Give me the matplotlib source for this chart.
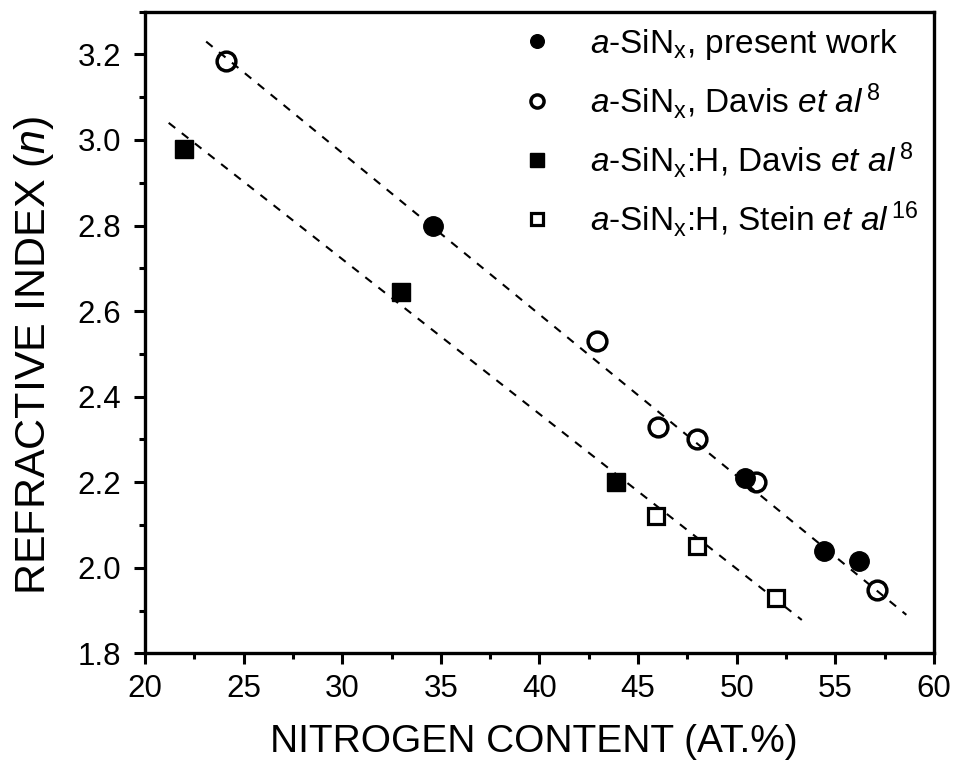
import matplotlib
matplotlib.use("Agg")
import matplotlib.pyplot as plt
from matplotlib.ticker import MultipleLocator, FormatStrFormatter

plt.rcParams["font.family"] = ["Liberation Sans", "DejaVu Sans"]
plt.rcParams["mathtext.fontset"] = "custom"
plt.rcParams["mathtext.rm"] = "Liberation Sans"
plt.rcParams["mathtext.it"] = "Liberation Sans:italic"

# --- data ---
present_x = [34.6, 50.4, 54.4, 56.2]
present_n = [2.80, 2.21, 2.04, 2.015]

davis_x = [24.1, 42.9, 46.0, 48.0, 51.0, 57.1]
davis_n = [3.185, 2.53, 2.33, 2.30, 2.20, 1.948]

davis_h_x = [22.0, 33.0, 43.9]
davis_h_n = [2.98, 2.645, 2.20]

stein_x = [45.9, 48.0, 52.0]
stein_n = [2.12, 2.05, 1.93]

# dashed guide lines (end points)
fit_a_x = [23.1, 58.6]
fit_a_n = [3.23, 1.89]
fit_h_x = [21.2, 53.3]
fit_h_n = [3.04, 1.878]

fig = plt.figure(figsize=(9.54, 7.75), dpi=100)
ax = fig.add_axes([0.152, 0.157, 0.827, 0.828])

dash = dict(color="black", lw=1.5, ls=(0, (4, 4)), zorder=1)
ax.plot(fit_a_x, fit_a_n, **dash)
ax.plot(fit_h_x, fit_h_n, **dash)

ax.plot(present_x, present_n, "o", ms=14, mfc="black", mec="black", ls="none",
        label=r"$\it{a}$-SiN$_\mathrm{x}$, present work", zorder=3)
ax.plot(davis_x, davis_n, "o", ms=13.5, mfc="none", mec="black", mew=2.5, ls="none",
        label=r"$\it{a}$-SiN$_\mathrm{x}$, Davis $\it{et\ al}$$^{\;8}$", zorder=3)
ax.plot(davis_h_x, davis_h_n, "s", ms=13.5, mfc="black", mec="black", ls="none",
        label=r"$\it{a}$-SiN$_\mathrm{x}$:H, Davis $\it{et\ al}$$^{\;8}$", zorder=3)
ax.plot(stein_x, stein_n, "s", ms=11.5, mfc="white", mec="black", mew=2.3, ls="none",
        label=r"$\it{a}$-SiN$_\mathrm{x}$:H, Stein $\it{et\ al}$$^{\;16}$", zorder=3)

ax.set_xlim(20, 60)
ax.set_ylim(1.8, 3.3)
ax.xaxis.set_major_locator(MultipleLocator(5))
ax.xaxis.set_minor_locator(MultipleLocator(2.5))
ax.yaxis.set_major_locator(MultipleLocator(0.2))
ax.yaxis.set_minor_locator(MultipleLocator(0.1))
ax.yaxis.set_major_formatter(FormatStrFormatter("%.1f"))

for s in ax.spines.values():
    s.set_linewidth(2.4)
ax.tick_params(which="major", direction="out", length=8, width=2.2, labelsize=22.5)
ax.tick_params(axis="y", which="major", pad=9)
ax.tick_params(axis="x", which="major", pad=7)
ax.tick_params(which="minor", direction="out", length=4.5, width=2.2)

ax.set_xlabel("NITROGEN CONTENT (AT.%)", fontsize=28)
ax.xaxis.set_label_coords(0.493, -0.11)
ax.set_ylabel(r"REFRACTIVE INDEX ($\it{n}$)", fontsize=31)
ax.yaxis.set_label_coords(-0.113, 0.465)

ax.legend(loc="upper right", frameon=False, fontsize=24, handletextpad=0.8,
          markerscale=0.7, borderaxespad=0.05, labelspacing=0.58, handlelength=1.6)

fig.savefig("out.png", dpi=100)
